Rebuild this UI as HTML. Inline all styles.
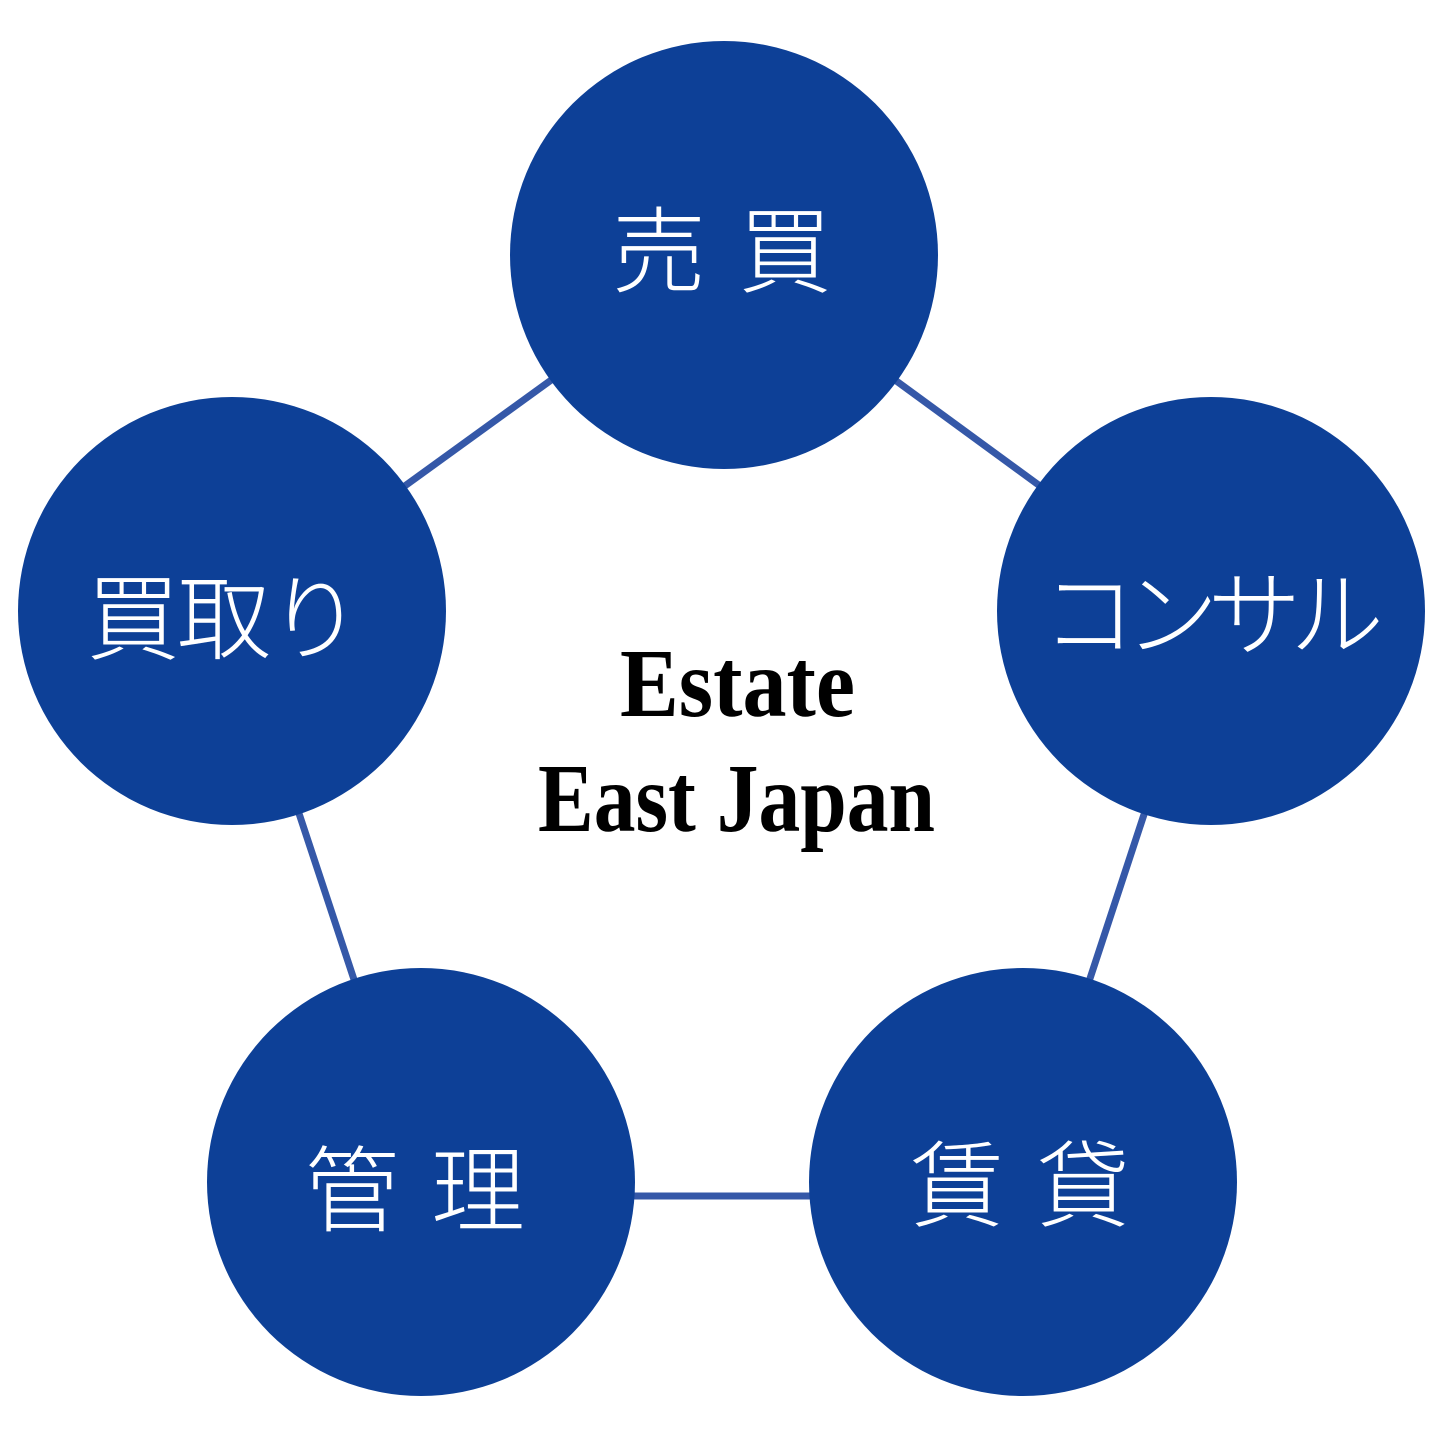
<!DOCTYPE html>
<html><head><meta charset="utf-8"><style>
html,body{margin:0;padding:0;background:#fff;}
svg{display:block}
.j{font-family:"Liberation Sans","Noto Sans CJK JP",sans-serif;font-weight:300;fill:#fff;font-size:94px;}
.e{font-family:"Liberation Serif","Noto Serif CJK SC",serif;font-weight:bold;fill:#000;font-size:98px;}
</style></head><body>
<svg width="1440" height="1440" viewBox="0 0 1440 1440" xmlns="http://www.w3.org/2000/svg">
<g stroke="#3558a8" stroke-width="7">
<line x1="724" y1="255" x2="232" y2="611"/>
<line x1="724" y1="255" x2="1211" y2="611"/>
<line x1="232" y1="611" x2="421" y2="1182"/>
<line x1="1211" y1="611" x2="1023" y2="1182"/>
<line x1="421" y1="1196" x2="1023" y2="1196"/>
</g>
<g fill="#0d4097">
<circle cx="724" cy="255" r="214"/>
<circle cx="232" cy="611" r="214"/>
<circle cx="1211" cy="611" r="214"/>
<circle cx="421" cy="1182" r="214"/>
<circle cx="1023" cy="1182" r="214"/>
</g>
<text class="j" x="612" y="285" textLength="220" lengthAdjust="spacing">売 買</text>
<text class="j" x="86" y="652" textLength="276" lengthAdjust="spacing">買取り</text>
<text class="j" x="1042" y="648" font-size="86" textLength="342" lengthAdjust="spacing">コンサル</text>
<text class="j" x="305" y="1224" textLength="220" lengthAdjust="spacing">管 理</text>
<text class="j" x="910" y="1219" textLength="220" lengthAdjust="spacing">賃 貸</text>
<text class="e" x="620" y="716" textLength="235" lengthAdjust="spacingAndGlyphs">Estate</text>
<text class="e" x="538" y="831" textLength="397" lengthAdjust="spacingAndGlyphs">East Japan</text>
</svg>
</body></html>
